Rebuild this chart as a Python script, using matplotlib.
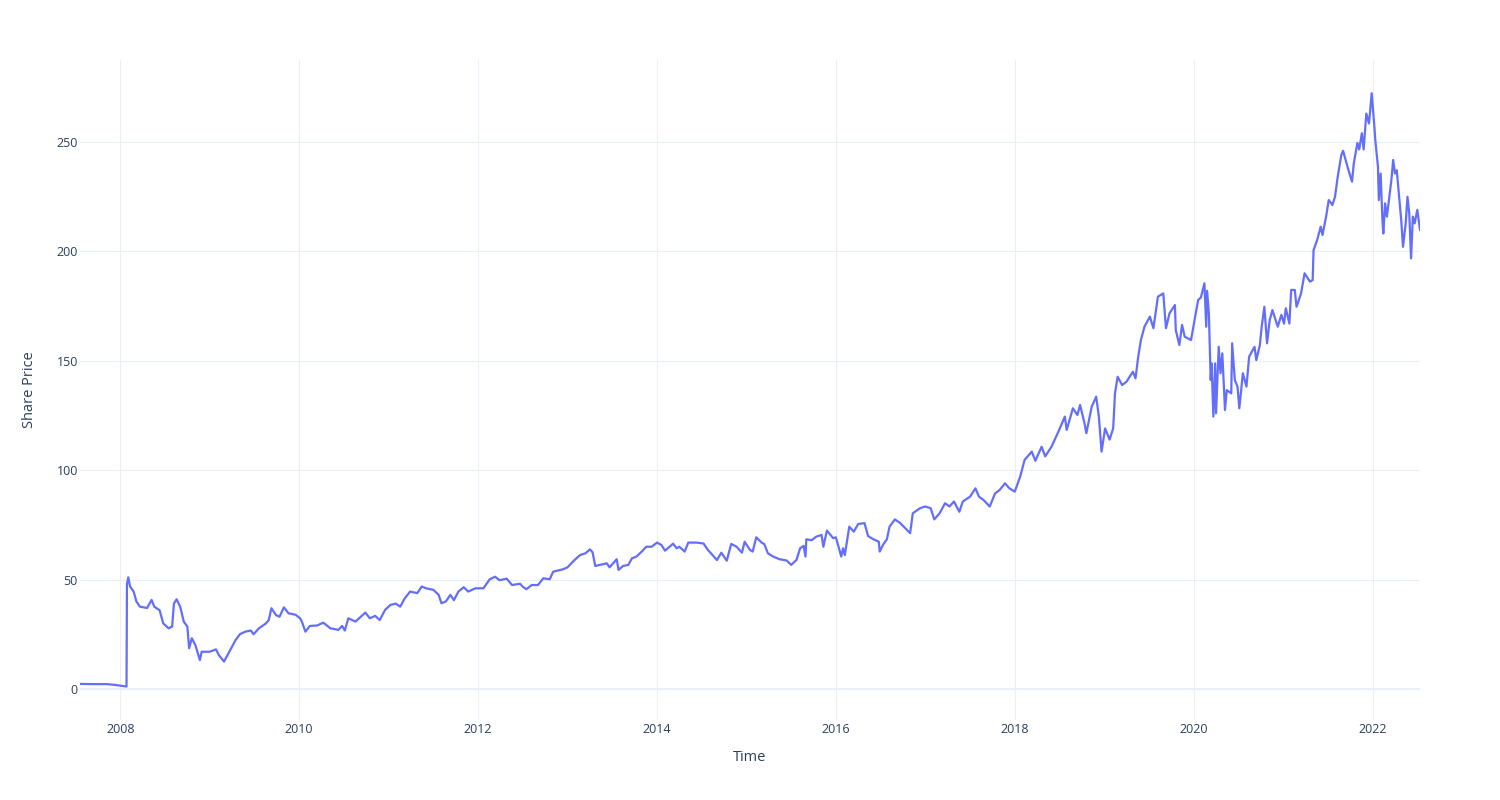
import matplotlib
matplotlib.use("Agg")
import matplotlib.pyplot as plt

plt.rcParams['font.family'] = ['Open Sans', 'DejaVu Sans']

# decimal year, closing price
years = [
    2007.55, 2007.70, 2007.85, 2007.95, 2008.02, 2008.07, 2008.075, 2008.09, 2008.11, 2008.15,
    2008.18, 2008.22, 2008.30, 2008.35, 2008.38, 2008.44, 2008.48, 2008.54, 2008.58, 2008.60,
    2008.63, 2008.67, 2008.71, 2008.75, 2008.77, 2008.80, 2008.84, 2008.89, 2008.91, 2009.00,
    2009.07, 2009.10, 2009.16, 2009.23, 2009.29, 2009.34, 2009.40, 2009.46, 2009.49, 2009.55,
    2009.63, 2009.66, 2009.69, 2009.74, 2009.78, 2009.83, 2009.88, 2009.96, 2010.01, 2010.03,
    2010.07, 2010.12, 2010.20, 2010.27, 2010.35, 2010.44, 2010.48, 2010.51, 2010.55, 2010.63,
    2010.74, 2010.79, 2010.85, 2010.90, 2010.96, 2011.02, 2011.08, 2011.13, 2011.18, 2011.24,
    2011.32, 2011.37, 2011.42, 2011.50, 2011.56, 2011.59, 2011.64, 2011.69, 2011.73, 2011.78,
    2011.84, 2011.89, 2011.97, 2012.06, 2012.13, 2012.19, 2012.24, 2012.32, 2012.38, 2012.47,
    2012.50, 2012.54, 2012.60, 2012.67, 2012.73, 2012.80, 2012.84, 2012.95, 2013.00, 2013.07,
    2013.14, 2013.20, 2013.25, 2013.28, 2013.31, 2013.36, 2013.44, 2013.47, 2013.55, 2013.57,
    2013.62, 2013.68, 2013.72, 2013.77, 2013.83, 2013.88, 2013.94, 2014.00, 2014.05, 2014.09,
    2014.14, 2014.18, 2014.22, 2014.25, 2014.31, 2014.35, 2014.44, 2014.52, 2014.57, 2014.63,
    2014.67, 2014.72, 2014.78, 2014.83, 2014.89, 2014.95, 2014.98, 2015.04, 2015.07, 2015.11,
    2015.17, 2015.20, 2015.24, 2015.30, 2015.37, 2015.45, 2015.50, 2015.56, 2015.60, 2015.64,
    2015.66, 2015.67, 2015.73, 2015.78, 2015.84, 2015.86, 2015.90, 2015.97, 2016.00, 2016.03,
    2016.06, 2016.08, 2016.10, 2016.15, 2016.20, 2016.25, 2016.32, 2016.36, 2016.42, 2016.48,
    2016.49, 2016.53, 2016.57, 2016.60, 2016.66, 2016.72, 2016.78, 2016.83, 2016.86, 2016.94,
    2017.00, 2017.06, 2017.10, 2017.16, 2017.22, 2017.27, 2017.32, 2017.38, 2017.42, 2017.50,
    2017.56, 2017.60, 2017.65, 2017.72, 2017.78, 2017.83, 2017.89, 2017.94, 2018.00, 2018.06,
    2018.11, 2018.19, 2018.23, 2018.30, 2018.34, 2018.41, 2018.48, 2018.56, 2018.58, 2018.65,
    2018.70, 2018.73, 2018.78, 2018.80, 2018.86, 2018.91, 2018.94, 2018.97, 2019.01, 2019.06,
    2019.10, 2019.12, 2019.15, 2019.20, 2019.25, 2019.32, 2019.35, 2019.38, 2019.41, 2019.45,
    2019.51, 2019.55, 2019.60, 2019.66, 2019.69, 2019.73, 2019.79, 2019.80, 2019.84, 2019.87,
    2019.90, 2019.97, 2020.01, 2020.05, 2020.08, 2020.12, 2020.14, 2020.15, 2020.17, 2020.19,
    2020.20, 2020.22, 2020.24, 2020.25, 2020.28, 2020.30, 2020.32, 2020.35, 2020.37, 2020.42,
    2020.43, 2020.46, 2020.49, 2020.51, 2020.55, 2020.59, 2020.62, 2020.68, 2020.70, 2020.74,
    2020.76, 2020.79, 2020.82, 2020.85, 2020.88, 2020.94, 2020.98, 2021.01, 2021.03, 2021.07,
    2021.09, 2021.13, 2021.15, 2021.20, 2021.24, 2021.30, 2021.33, 2021.34, 2021.38, 2021.42,
    2021.44, 2021.48, 2021.51, 2021.55, 2021.58, 2021.61, 2021.65, 2021.67, 2021.73, 2021.77,
    2021.79, 2021.83, 2021.85, 2021.88, 2021.90, 2021.93, 2021.96, 2021.99, 2022.02, 2022.03,
    2022.06, 2022.07, 2022.09, 2022.11, 2022.12, 2022.14, 2022.16, 2022.21, 2022.23, 2022.25,
    2022.27, 2022.30, 2022.32, 2022.34, 2022.37, 2022.39, 2022.41, 2022.43, 2022.45, 2022.47,
    2022.50, 2022.53,
]
prices = [
    2.3, 2.2, 2.2, 1.8, 1.4, 1.1, 48, 51, 46.8, 44.5,
    40, 37.6, 37, 40.7, 37.6, 36, 30, 27.7, 28.5, 39,
    41, 37.6, 30.8, 28.5, 18.6, 23.2, 20, 13.2, 17, 17,
    18.1, 15.6, 12.5, 17.8, 22.4, 25.1, 26.2, 26.7, 25, 27.7,
    30, 31.5, 36.9, 33.8, 33, 37.3, 34.6, 33.9, 32.3, 30.8,
    26.2, 28.8, 29.0, 30.3, 27.7, 27, 28.8, 26.7, 32.3, 30.8,
    34.9, 32.3, 33.4, 31.5, 36.1, 38.4, 39, 37.6, 41.4, 44.5,
    43.8, 46.8, 46, 45.3, 43, 39.2, 40, 43, 40.6, 44.5,
    46.5, 44.5, 46, 46, 50.1, 51.3, 49.7, 50.4, 47.5, 48.1,
    46.7, 45.6, 47.5, 47.5, 50.6, 50.1, 53.6, 54.7, 55.6, 58.6,
    61.2, 62, 63.8, 62.5, 56.2, 56.7, 57.4, 55.6, 59.3, 54.4,
    56.2, 56.7, 59.7, 60.5, 62.8, 65, 65, 66.9, 65.8, 63.2,
    65, 66.4, 64.3, 65, 62.8, 66.9, 66.9, 66.5, 63.5, 60.8,
    58.9, 62.3, 58.6, 66.3, 65, 62.3, 67.3, 63.5, 62.8, 69.3,
    66.9, 66.2, 62, 60.5, 59.3, 58.7, 56.7, 59, 64.3, 65.4,
    60.5, 68.4, 68, 69.6, 70.4, 65, 72.4, 68.9, 69.3, 65,
    60.5, 64.3, 61.2, 74.2, 71.9, 75.4, 75.8, 69.9, 68.4, 67.3,
    62.8, 66.1, 68.4, 74.2, 77.5, 75.8, 73.3, 71.2, 80.3, 82.6,
    83.4, 82.6, 77.5, 80.3, 84.9, 83.4, 85.7, 81, 85.7, 87.9,
    91.7, 87.9, 86.4, 83.4, 89.4, 90.9, 94, 91.7, 90.2, 97,
    104.7, 108.5, 104.3, 110.7, 106.3, 110.7, 116.9, 124.5, 118.4, 128.3,
    125.2, 129.8, 121.4, 116.9, 129, 133.6, 124.5, 108.5, 119.1, 114,
    119.1, 135.1, 142.7, 138.9, 140.5, 145, 142, 151.9, 159.5, 165.6,
    170.2, 164.9, 179.3, 180.8, 164.9, 171.7, 175.5, 164, 157.2, 166.4,
    161, 159.5, 168.6, 177.8, 178.9, 185.4, 165.6, 182, 171.5, 141.2,
    148.8, 124.5, 148.8, 126, 156.4, 144.3, 153.4, 127.5, 136.6, 135.1,
    158, 141.2, 138.2, 128.3, 144.3, 138.2, 151.9, 156.4, 150.3, 157.2,
    165.6, 174.7, 158, 168.6, 173.2, 165.6, 171, 167, 174, 167,
    182.4, 182.4, 174.7, 180.8, 190, 186.2, 186.9, 200.6, 205.2, 211.3,
    207.5, 215.9, 223.5, 221.2, 225, 234.1, 244, 246, 237.2, 231.9,
    240.3, 249.6, 246.6, 254, 246.6, 263, 258.5, 272.3, 257, 251,
    238.7, 223.5, 235.6, 214.3, 208.2, 222, 215.9, 232.6, 241.8, 235.6,
    237.1, 223.5, 214.4, 202.1, 212.8, 225, 217.4, 196.8, 215.9, 212.8,
    219, 209.8,
]

year_ticks = [2008, 2010, 2012, 2014, 2016, 2018, 2020, 2022]
price_ticks = [0, 50, 100, 150, 200, 250]

fig = plt.figure(figsize=(15, 8), dpi=100)
ax = fig.add_axes([80 / 1500, 80 / 800, 1340 / 1500, 660 / 800])

ax.plot(years, prices, color='#636EFA', lw=1.6, zorder=3)

ax.set_xlim(years[0], years[-1])
ax.set_ylim(-14.2, 287.5)
ax.set_xticks(year_ticks)
ax.set_xticklabels([str(y) for y in year_ticks])
ax.set_yticks(price_ticks)

ax.grid(True, color='#EBF0F8', lw=0.8)
ax.axhline(0, color='#EBF0F8', lw=1.6, zorder=1)
ax.set_axisbelow(True)
for s in ax.spines.values():
    s.set_visible(False)
ax.tick_params(length=0, labelsize=9, labelcolor='#2a3f5f')
ax.tick_params(axis='x', pad=2.5)
ax.tick_params(axis='y', pad=1.5)

ax.set_xlabel('Time', fontsize=10.5, color='#2a3f5f', labelpad=9.5)
ax.set_ylabel('Share Price', fontsize=10.5, color='#2a3f5f', labelpad=14)

fig.savefig('out.png', dpi=100, facecolor='white')
